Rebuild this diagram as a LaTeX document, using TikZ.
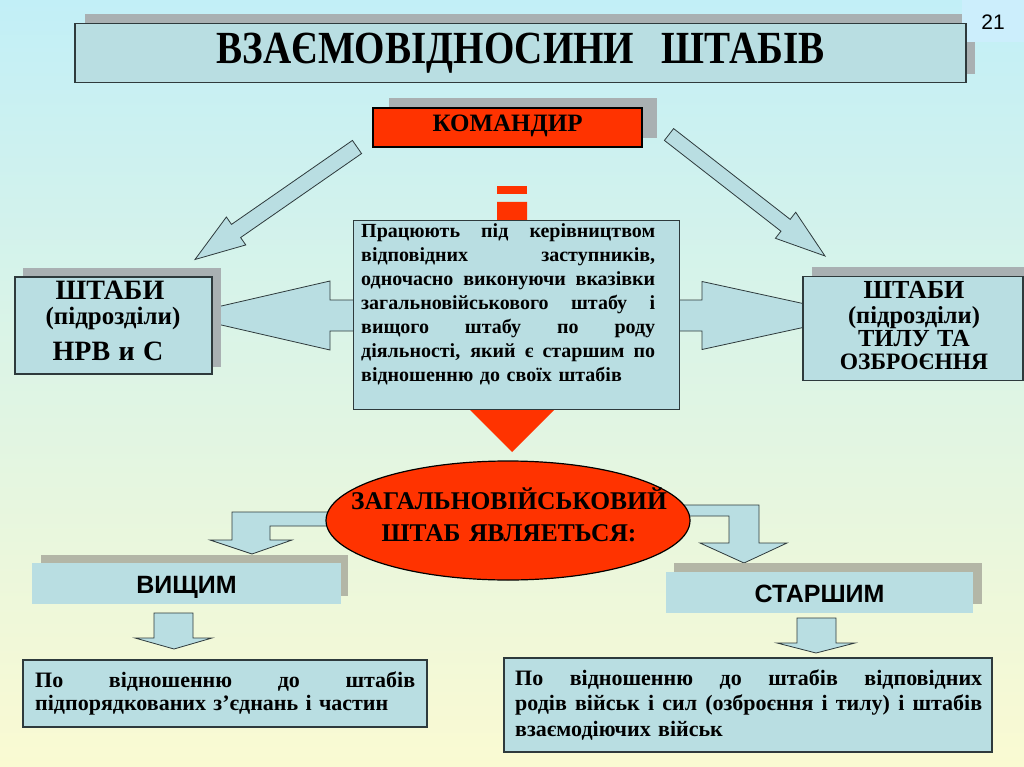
\documentclass[tikz,border=0pt]{standalone}
\usepackage{fontspec}
\setmainfont{Liberation Serif}
\newfontfamily\sansf{Liberation Sans}
\newfontfamily\titlef[FakeStretch=0.85]{Liberation Serif}
\usetikzlibrary{calc,shapes.geometric}
\definecolor{bgtop}{HTML}{C2EFF7}
\definecolor{bgbot}{HTML}{FAFAD2}
\definecolor{boxfill}{HTML}{B9DEE2}
\definecolor{shadowc}{HTML}{A9B0B2}
\definecolor{shadowl}{HTML}{B3B6A6}
\definecolor{redc}{HTML}{FF3300}
\definecolor{edgec}{HTML}{2E3A3C}
\definecolor{pagebox}{HTML}{CCEEFC}
\tikzset{
  box/.style={draw=edgec, line width=1.3pt, fill=boxfill, inner sep=0pt},
  flatbox/.style={fill=boxfill, inner sep=0pt},
  arrowshape/.style={fill=boxfill, draw=edgec, line width=0.8pt, line join=miter},
  redbox/.style={draw=black, line width=2pt, fill=redc, inner sep=0pt},
  txt/.style={inner sep=0pt, font=\bfseries},
  lineA/.style={inner sep=0pt, anchor=base, font=\bfseries\fontsize{#1}{#1}\selectfont},
}
% justified line of given width
\newcommand\jl[2]{\hbox to #1{\spaceskip=0.25em plus 1fil\relax #2}}
% block arrow from #1 to #2: shaft half width #3, head half width #4, head length #5
\newcommand\barrow[5]{%
  \coordinate (bh) at ($(#2)!#5!(#1)$);
  \filldraw[arrowshape] ($(#1)!#3!90:(#2)$) -- ($(bh)!#3!90:(#2)$) -- ($(bh)!#4!90:(#2)$) -- (#2)
    -- ($(bh)!#4!-90:(#2)$) -- ($(bh)!#3!-90:(#2)$) -- ($(#1)!#3!-90:(#2)$) -- cycle;}
\begin{document}
\begin{tikzpicture}[x=1pt,y=-1pt]
\useasboundingbox (0,0) rectangle (1024,767);
\shade[top color=bgtop, bottom color=bgbot] (0,0) rectangle (1024,767);

% title
\fill[shadowc] (85,14) rectangle (975,74);
\fill[pagebox] (962,0) rectangle (1024,42);
\node[font=\sansf\fontsize{21}{21}\selectfont] (num) at (993,22) {21};
\node[box, minimum width=891pt, minimum height=59pt] (title) at (520.5,53)
  {\titlef\bfseries\fontsize{46}{46}\selectfont ВЗАЄМОВІДНОСИНИ\hspace{0.6em}ШТАБІВ};

% commander
\fill[shadowc] (389,98) rectangle (657,138);
\node[redbox, minimum width=269pt, minimum height=39pt, text height=14pt, text depth=6pt,
  font=\bfseries\fontsize{25}{25}\selectfont] (cmd) at (507.5,127.5) {КОМАНДИР};

% diagonal arrows
\coordinate (dl1) at (357,147); \coordinate (dl2) at (195,259.5);
\barrow{dl1}{dl2}{8pt}{17pt}{50pt}
\coordinate (dr1) at (669,134.5); \coordinate (dr2) at (825,256);
\barrow{dr1}{dr2}{7.5pt}{16.5pt}{50pt}

% horizontal arrows (tips hidden by the side boxes)
\coordinate (hl1) at (360,315.5); \coordinate (hl2) at (180,315.5);
\barrow{hl1}{hl2}{15.5pt}{34.5pt}{150pt}
\coordinate (hr1) at (672,315.5); \coordinate (hr2) at (858,315.5);
\barrow{hr1}{hr2}{15.5pt}{34pt}{156pt}

% red arrow behind central box
\fill[redc] (497,186) rectangle (527,194);
\fill[redc] (497,202) -- (527,202) -- (527,405) -- (559,405) -- (512,452) -- (465,405) -- (497,405) -- cycle;

% central box
\node[box, minimum width=326pt, minimum height=189pt, anchor=north west] (mid) at (353,220) {};
\node[txt, anchor=base west, text width=294pt, align=left,
  font=\bfseries\fontsize{20}{24}\selectfont] (midtxt) at (361,237)
  {\jl{294pt}{Працюють під керівництвом}
   \jl{294pt}{відповідних заступників,}
   \jl{294pt}{одночасно виконуючи вказівки}
   \jl{294pt}{загальновійськового штабу і}
   \jl{294pt}{вищого штабу по роду}
   \jl{294pt}{діяльності, який є старшим по}
   відношенню до своїх штабів};

% side boxes
\fill[shadowc] (23,268) rectangle (221,367);
\node[box, minimum width=197pt, minimum height=97pt] (lbox) at (113.5,325.5) {};
\node[lineA=28] (lb1) at (110,299) {ШТАБИ};
\node[lineA=25] (lb2) at (113,324.5) {(підрозділи)};
\node[lineA=28] (lb3) at (108,360) {НРВ\hspace{0.3em}и\hspace{0.3em}С};
\fill[shadowc] (812,267) rectangle (1024,372);
\node[box, minimum width=220pt, minimum height=104pt] (rbox) at (913,328.5) {};
\node[lineA=26] (rb1) at (914,298) {ШТАБИ};
\node[lineA=24.5] (rb2) at (914,323) {(підрозділи)};
\node[lineA=24.5] (rb3) at (914,346) {ТИЛУ\hspace{0.3em}ТА};
\node[lineA=23.5] (rb4) at (914,369) {ОЗБРОЄННЯ};

% bent arrows from ellipse
\filldraw[arrowshape] (340,512) -- (232,512) -- (232,540) -- (210,540) -- (252,554) -- (292,540)
  -- (270,540) -- (270,526) -- (340,526) -- cycle;
\filldraw[arrowshape] (680,505) -- (759,505) -- (759,543) -- (787,543) -- (744,563) -- (700,543)
  -- (729,543) -- (729,516) -- (680,516) -- cycle;

% ellipse
\node[ellipse, draw=black, line width=1.2pt, fill=redc, minimum width=364pt, minimum height=119pt,
  inner sep=0pt] (gen) at (508,520.5) {};
\node[txt, anchor=base, text width=340pt, align=center,
  font=\bfseries\fontsize{25.5}{32}\selectfont] (gentxt) at (509,509)
  {ЗАГАЛЬНОВІЙСЬКОВИЙ\\ШТАБ ЯВЛЯЕТЬСЯ:};

% higher / senior
\fill[shadowl] (41,555) rectangle (348,596);
\node[flatbox, minimum width=309pt, minimum height=41pt, text height=19pt, text depth=0pt,
  font=\sansf\bfseries\fontsize{25}{25}\selectfont] (hi) at (186.5,583.5) {ВИЩИМ};
\fill[shadowl] (674,563) rectangle (982,604);
\node[flatbox, minimum width=307pt, minimum height=41pt, text height=19pt, text depth=0pt,
  font=\sansf\bfseries\fontsize{25}{25}\selectfont] (sr) at (819.5,592.5) {СТАРШИМ};

% down arrows
\filldraw[arrowshape] (154,613) -- (193,613) -- (193,638) -- (212,638) -- (174,649) -- (135,638)
  -- (154,638) -- cycle;
\filldraw[arrowshape] (797,618) -- (836,618) -- (836,643) -- (855,643) -- (816,653) -- (777,643)
  -- (797,643) -- cycle;

% lower boxes
\node[box, minimum width=404pt, minimum height=67pt] (lowl) at (225,693.5) {};
\node[txt, anchor=base west, text width=380pt, align=left,
  font=\bfseries\fontsize{22}{23}\selectfont] (lowltxt) at (35,687)
  {\jl{380pt}{По відношенню до штабів}
   підпорядкованих з’єднань і частин};
\node[box, minimum width=488pt, minimum height=94pt] (lowr) at (748,705) {};
\node[txt, anchor=base west, text width=467pt, align=left,
  font=\bfseries\fontsize{22}{25.5}\selectfont] (lowrtxt) at (515,685)
  {\jl{467pt}{По відношенню до штабів відповідних}
   \jl{467pt}{родів військ і сил (озброєння і тилу) і штабів}
   взаємодіючих військ};
\end{tikzpicture}
\end{document}
